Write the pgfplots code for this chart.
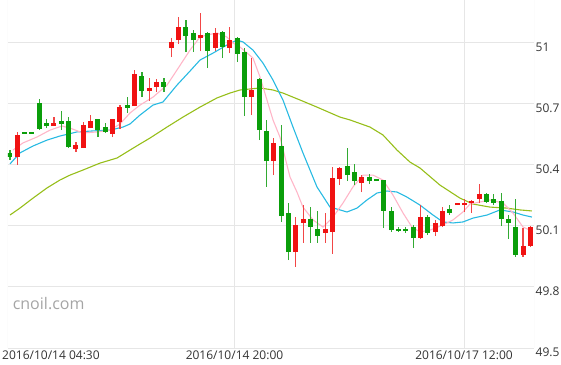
\documentclass[border=0pt]{standalone}
\usepackage{fontspec}
\setmainfont{Open Sans}
\usepackage{pgfplots}
\usepackage{pgfplotstable}
\pgfplotsset{compat=1.18}
\definecolor{gridc}{RGB}{230,230,230}
\definecolor{labc}{RGB}{51,51,51}
\definecolor{wmc}{RGB}{165,165,165}
\definecolor{upc}{RGB}{240,18,18}
\definecolor{dnc}{RGB}{10,158,10}
\definecolor{upw}{RGB}{242,70,70}
\definecolor{dnw}{RGB}{50,170,50}
\definecolor{pinkc}{RGB}{255,182,200}
\definecolor{cyanc}{RGB}{40,186,226}
\definecolor{olivec}{RGB}{150,190,25}

\pgfplotstableread{
x lo hi blo bhi
1 50.399 50.561 50.438 50.546
6 50.590 50.634 50.590 50.605
9 50.462 50.512 50.477 50.497
10 50.482 50.610 50.482 50.595
11 50.580 50.644 50.580 50.615
14 50.536 50.624 50.551 50.624
15 50.575 50.693 50.610 50.683
17 50.688 50.865 50.688 50.845
19 50.713 50.826 50.762 50.777
20 50.757 50.821 50.782 50.806
22 50.929 51.022 50.973 51.003
23 50.993 51.125 51.012 51.076
26 50.958 51.145 51.022 51.037
28 50.958 51.071 50.973 51.047
30 50.948 51.076 50.973 51.012
33 50.644 50.924 50.732 50.767
36 50.349 50.531 50.418 50.507
39 49.898 50.143 49.971 50.104
40 50.016 50.202 50.114 50.133
43 50.016 50.163 50.065 50.084
44 49.962 50.389 50.070 50.335
45 50.300 50.389 50.330 50.384
48 50.266 50.349 50.310 50.340
56 50.035 50.202 50.040 50.143
58 50.050 50.129 50.070 50.114
59 50.094 50.192 50.099 50.173
61 50.202 50.212 50.202 50.212
62 50.168 50.232 50.202 50.212
63 50.163 50.227 50.212 50.222
64 50.212 50.305 50.232 50.256
70 49.947 50.089 49.957 50.001
71 49.996 50.099 50.001 50.094
}\uptab

\pgfplotstableread{
x lo hi blo bhi
0 50.423 50.472 50.438 50.458
2 50.551 50.561 50.551 50.561
3 50.551 50.561 50.551 50.561
4 50.570 50.723 50.575 50.703
5 50.580 50.624 50.590 50.605
7 50.570 50.664 50.600 50.615
8 50.482 50.634 50.487 50.615
12 50.536 50.624 50.570 50.624
13 50.556 50.605 50.561 50.585
16 50.654 50.732 50.678 50.693
18 50.732 50.855 50.762 50.836
21 50.757 50.826 50.782 50.806
24 50.953 51.111 51.032 51.076
25 50.953 51.061 51.012 51.047
27 50.875 51.052 50.958 51.047
29 50.924 51.057 50.978 51.052
31 50.904 51.027 50.944 51.022
32 50.639 50.973 50.732 50.953
34 50.521 50.826 50.570 50.821
35 50.291 50.620 50.418 50.566
37 50.119 50.595 50.148 50.492
38 49.932 50.212 49.971 50.163
41 50.016 50.192 50.094 50.133
42 50.016 50.173 50.050 50.084
46 50.320 50.482 50.349 50.394
47 50.300 50.404 50.320 50.364
49 50.305 50.354 50.320 50.340
50 50.320 50.330 50.320 50.330
51 50.089 50.325 50.173 50.325
52 50.070 50.192 50.079 50.173
53 50.070 50.094 50.074 50.084
54 50.065 50.094 50.074 50.084
55 49.991 50.104 50.040 50.094
57 50.055 50.153 50.065 50.143
60 50.153 50.202 50.163 50.182
65 50.212 50.261 50.217 50.256
66 50.202 50.256 50.212 50.232
67 50.099 50.261 50.133 50.222
68 50.035 50.153 50.114 50.133
69 49.947 50.232 49.957 50.094
}\dntab

\begin{document}
\begin{tikzpicture}
\begin{axis}[
  at={(0,0)}, anchor=south west,
  scale only axis, width=526pt, height=348pt,
  xmin=-0.27, xmax=71.49, ymin=49.5, ymax=51.209,
  axis line style={draw=none},
  major tick length=0pt,
  tick style={draw=none},
  xtick={30.63,61.94},
  xticklabels={2016/10/14 20:00,2016/10/17 12:00},
  ytick={49.5,49.8,50.1,50.4,50.7,51},
  yticklabels={49.5,49.8,50.1,50.4,50.7,51},
  yticklabel pos=right,
  grid=major,
  major grid style={draw=gridc, line width=1pt},
  ticklabel style={font=\fontsize{12}{14}\selectfont, text=labc},
  yticklabel style={anchor=base west, inner sep=0pt, xshift=1.5pt, yshift=-8.5pt},
  xticklabel style={anchor=base, inner sep=0pt, yshift=-11pt},
  /pgf/number format/assume math mode=true,
]
\draw[gridc, line width=1pt] (rel axis cs:0,0) -- (rel axis cs:0,1);
\draw[gridc, line width=1pt] (rel axis cs:1,0) -- (rel axis cs:1,1);
\draw[gridc, line width=1pt] (rel axis cs:0,0) -- (rel axis cs:1,0);

% moving averages
\addplot[olivec, line width=1.1pt, mark=none] coordinates {
(0,50.153) (1.36,50.187) (3.14,50.236) (5.05,50.286) (6.82,50.325) (8.19,50.349)
(9.96,50.374) (12.28,50.408) (14.60,50.433) (16.37,50.472) (17.74,50.502) (19.10,50.531)
(21.42,50.585) (23.60,50.634) (25.92,50.683) (28.24,50.728) (30.01,50.752) (31.38,50.767)
(34.11,50.777) (35.88,50.767) (37.24,50.752) (39.56,50.718) (41.88,50.683) (45.02,50.634)
(46.38,50.620) (49.11,50.585) (50.89,50.546) (52.80,50.472) (54.57,50.413) (55.93,50.384)
(58.66,50.300) (61.39,50.236) (63.17,50.207) (65.48,50.192) (67.80,50.187) (69.58,50.178)
(71.21,50.173)
};
\addplot[cyanc, line width=1.1pt, mark=none] coordinates {
(0,50.404) (1.36,50.458) (3.14,50.492) (5.05,50.521) (6.82,50.541) (9.14,50.561)
(11.32,50.566) (13.64,50.570) (15.42,50.585) (16.37,50.600) (17.74,50.644) (19.51,50.693)
(20.87,50.708) (22.78,50.791) (24.56,50.860) (25.92,50.914) (27.69,50.948) (29.60,50.988)
(30.97,51.012) (31.79,51.003) (33.15,50.963) (34.52,50.899) (35.88,50.816) (37.24,50.718)
(38.61,50.585) (39.97,50.458) (41.88,50.291) (43.66,50.192) (45.98,50.168) (47.34,50.187)
(48.70,50.227) (50.07,50.261) (51.43,50.271) (52.80,50.266) (54.16,50.241) (55.93,50.202)
(57.71,50.153) (59.07,50.119) (60.44,50.114) (61.80,50.119) (63.17,50.138) (65.08,50.153)
(66.85,50.178) (68.62,50.168) (69.99,50.153) (71.21,50.143)
};
\addplot[pinkc, line width=1.1pt, mark=none] coordinates {
(0.41,50.472) (1.77,50.507) (3.68,50.536) (5.46,50.570) (7.09,50.590) (8.19,50.580)
(9.96,50.556) (11.87,50.561) (13.64,50.570) (15.01,50.600) (16.37,50.654) (17.74,50.693)
(19.51,50.732) (21.42,50.791) (22.78,50.865) (24.56,50.963) (25.92,51.027) (26.88,51.037)
(28.24,51.047) (29.60,51.027) (30.42,50.998) (31.38,50.978) (33.15,50.924) (34.11,50.831)
(35.06,50.718) (35.88,50.620) (36.83,50.536) (38.20,50.340) (39.15,50.266) (39.97,50.192)
(41.34,50.129) (42.70,50.094) (44.07,50.143) (45.43,50.212) (46.79,50.291) (48.16,50.349)
(49.52,50.349) (50.89,50.325) (52.25,50.251) (53.62,50.163) (54.84,50.094) (55.93,50.070)
(57.30,50.079) (59.07,50.104) (60.44,50.129) (61.80,50.168) (62.76,50.207) (64.12,50.217)
(65.48,50.227) (67.26,50.212) (68.62,50.163) (69.99,50.094) (70.94,50.079)
};

% wicks
\addplot[draw=none, mark=none, error bars/.cd, y dir=plus, y explicit, error mark=none,
  error bar style={draw=upw, line width=1.2pt}]
  table[x=x, y=lo, y error plus expr=\thisrow{hi}-\thisrow{lo}] {\uptab};
\addplot[draw=none, mark=none, error bars/.cd, y dir=plus, y explicit, error mark=none,
  error bar style={draw=dnw, line width=1.2pt}]
  table[x=x, y=lo, y error plus expr=\thisrow{hi}-\thisrow{lo}] {\dntab};
% bodies
\addplot[draw=none, mark=none, error bars/.cd, y dir=plus, y explicit, error mark=none,
  error bar style={draw=upc, line width=5pt}]
  table[x=x, y=blo, y error plus expr=\thisrow{bhi}-\thisrow{blo}] {\uptab};
\addplot[draw=none, mark=none, error bars/.cd, y dir=plus, y explicit, error mark=none,
  error bar style={draw=dnc, line width=5pt}]
  table[x=x, y=blo, y error plus expr=\thisrow{bhi}-\thisrow{blo}] {\dntab};

\node[anchor=base west, inner sep=0pt, text=wmc, font=\fontsize{16}{19}\selectfont,
  xshift=4.6pt, yshift=38.5pt] at (rel axis cs:0,0) {cnoil.com};
\end{axis}
\node[anchor=base west, inner sep=0pt, text=labc, font=\fontsize{12}{14}\selectfont]
  at (-6pt,-11pt) {2016/10/14 04:30};
\pgfresetboundingbox
\path[use as bounding box] (-8pt,-16pt) rectangle (553pt,348pt);
\end{tikzpicture}
\end{document}
